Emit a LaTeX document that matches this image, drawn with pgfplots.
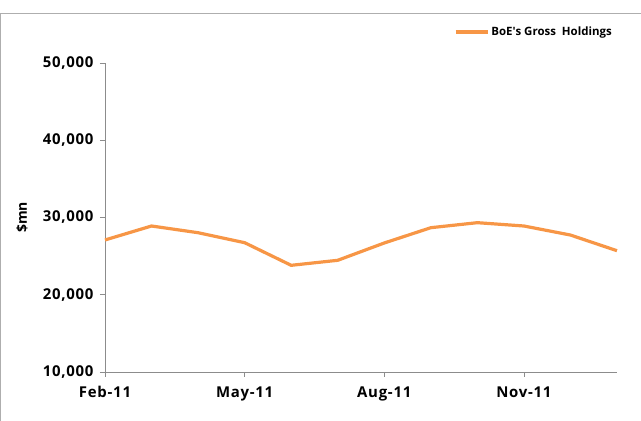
\documentclass[border=0pt]{standalone}
\usepackage{fontspec}
\setmainfont{Open Sans}
\usepackage{pgfplots}
\pgfplotsset{compat=1.18}
\definecolor{boeorange}{HTML}{F79646}
\definecolor{axgray}{HTML}{8C8C8C}
\newcommand{\tickfont}{\fontsize{15}{17}\selectfont\bfseries\addfontfeature{LetterSpace=5}}
\begin{document}
\begin{tikzpicture}
\useasboundingbox (-105bp,-49bp) rectangle (536bp,372bp);
\draw[axgray!70, line width=1bp] (-104bp,-49bp) -- (-104bp,358bp) -- (536bp,358bp);
\begin{axis}[
  at={(0,0)}, anchor=south west,
  scale only axis,
  width=512bp, height=309bp,
  xmin=0, xmax=11,
  ymin=10000, ymax=50000,
  axis lines*=left,
  axis line style={axgray, line width=0.8bp, -},
  xtick={0,3,6,9},
  xticklabels={Feb-11,May-11,Aug-11,Nov-11},
  ytick={10000,20000,30000,40000,50000},
  tick align=outside,
  major tick length=5bp,
  tick style={axgray, line width=0.8bp},
  /pgf/number format/assume math mode=true,
  /pgf/number format/.cd, 1000 sep={,}, /pgfplots/.cd,
  scaled y ticks=false,
  ticklabel style={font=\tickfont},
  xticklabel style={yshift=-6bp},
  yticklabel style={xshift=-3bp},
  ylabel={\$mn},
  ylabel style={at={(axis description cs:-0.162,0.5)}, anchor=center, font=\fontsize{14}{16}\selectfont\bfseries},
  legend style={at={(0.994,1.100)}, anchor=east, draw=none, fill=none,
    font=\fontsize{11.5}{13}\selectfont\bfseries, inner sep=0pt},
  legend image code/.code={\draw[#1, line width=3.2bp] (0bp,0bp) -- (32bp,0bp);},
  legend cell align=left,
  clip=false,
]
\addplot[boeorange, line width=3.2bp, line join=round] coordinates {
  (0,27090) (1,28900) (2,28030) (3,26740) (4,23810) (5,24460)
  (6,26700) (7,28680) (8,29330) (9,28900) (10,27730) (11,25700)
};
\addlegendentry{BoE\textquotesingle s Gross~ Holdings}
\end{axis}
\end{tikzpicture}
\end{document}
